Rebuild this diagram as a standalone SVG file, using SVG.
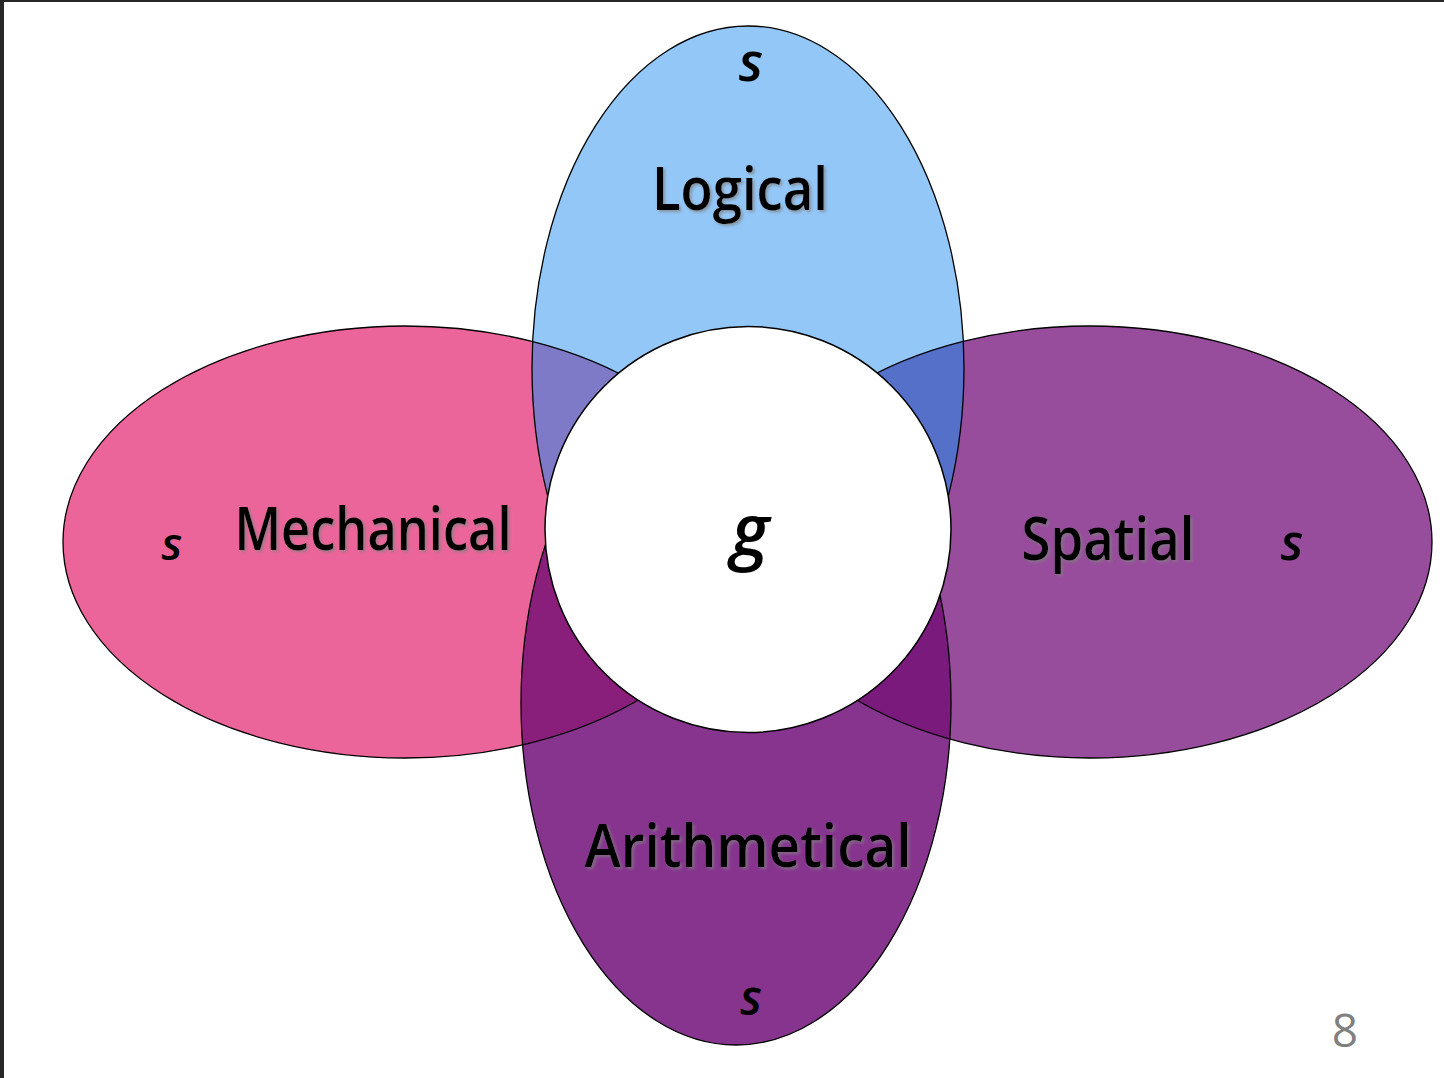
<svg xmlns="http://www.w3.org/2000/svg" width="1444" height="1078" viewBox="0 0 1444 1078">
  <style>
    .edge { fill: none; stroke: #000; stroke-width: 1.3; }
    .lbl { font-family: "Open Sans", "DejaVu Sans", sans-serif; fill: #000; text-anchor: middle; font-weight: 600; }
    .big { font-size: 60px; filter: url(#shadow); }
    .s { font-style: italic; }
  </style>
  <defs>
    <filter id="shadow" x="-10%" y="-30%" width="120%" height="160%">
      <feDropShadow dx="2" dy="2" stdDeviation="1.8" flood-color="#808080" flood-opacity="0.7"/>
    </filter>
    <clipPath id="clipLeft"><ellipse cx="405" cy="542" rx="342" ry="216"/></clipPath>
    <clipPath id="clipRight"><ellipse cx="1090" cy="542" rx="342" ry="216"/></clipPath>
  </defs>

  <rect width="1444" height="1078" fill="#ffffff"/>
  <rect x="0" y="0" width="4" height="1078" fill="#282828"/>
  <rect x="0" y="0" width="1444" height="2" fill="#282828"/>

  <g id="mechanical">
    <ellipse cx="405" cy="542" rx="342" ry="216" fill="#EC659A"/>
  </g>
  <g id="spatial">
    <ellipse cx="1090" cy="542" rx="342" ry="216" fill="#974C9C"/>
  </g>
  <g id="logical">
    <ellipse cx="748" cy="368" rx="216" ry="342" fill="#93C7F8"/>
  </g>
  <g id="arithmetical">
    <ellipse cx="736" cy="703" rx="215" ry="342" fill="#87348F"/>
  </g>

  <g id="overlaps">
    <ellipse cx="748" cy="368" rx="216" ry="342" fill="#7F7AC8" clip-path="url(#clipLeft)"/>
    <ellipse cx="748" cy="368" rx="216" ry="342" fill="#5570C9" clip-path="url(#clipRight)"/>
    <ellipse cx="736" cy="703" rx="215" ry="342" fill="#891E7B" clip-path="url(#clipLeft)"/>
    <ellipse cx="736" cy="703" rx="215" ry="342" fill="#7A1A7C" clip-path="url(#clipRight)"/>
  </g>

  <g id="outlines">
    <ellipse class="edge" cx="405" cy="542" rx="342" ry="216"/>
    <ellipse class="edge" cx="1090" cy="542" rx="342" ry="216"/>
    <ellipse class="edge" cx="748" cy="368" rx="216" ry="342"/>
    <ellipse class="edge" cx="736" cy="703" rx="215" ry="342"/>
  </g>

  <g id="general">
    <circle cx="748" cy="529.5" r="203" fill="#ffffff" stroke="#000" stroke-width="1.5"/>
    <text class="lbl s" x="750" y="556" font-size="72">g</text>
  </g>

  <g id="labels">
    <text class="lbl big" x="740" y="210" textLength="176" lengthAdjust="spacingAndGlyphs">Logical</text>
    <text class="lbl big" x="373" y="550" textLength="277" lengthAdjust="spacingAndGlyphs">Mechanical</text>
    <text class="lbl big" x="1108" y="560" textLength="173" lengthAdjust="spacingAndGlyphs">Spatial</text>
    <text class="lbl big" x="748" y="867" textLength="327" lengthAdjust="spacingAndGlyphs">Arithmetical</text>
    <text class="lbl s" x="751" y="81" font-size="54">s</text>
    <text class="lbl s" x="172" y="560" font-size="46">s</text>
    <text class="lbl s" x="1292" y="560" font-size="50">s</text>
    <text class="lbl s" x="751" y="1015" font-size="48">s</text>
  </g>

  <text x="1345" y="1047" font-family="Open Sans, Liberation Sans, sans-serif" font-size="46" fill="#808080" text-anchor="middle">8</text>
</svg>
